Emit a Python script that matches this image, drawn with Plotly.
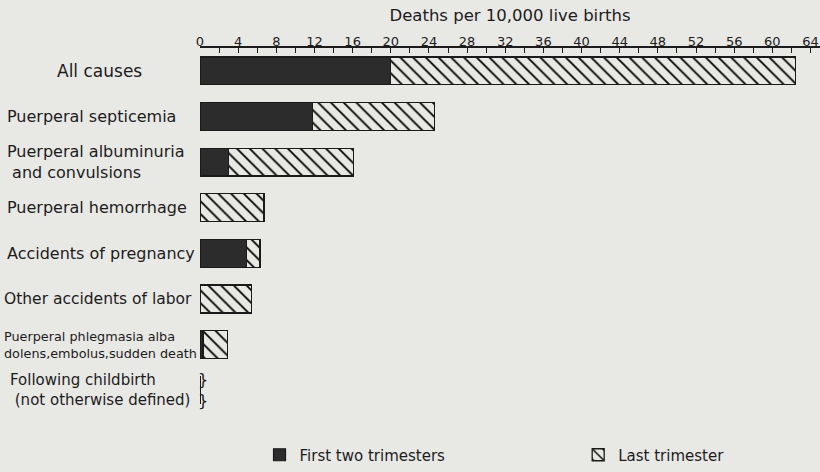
import plotly.graph_objects as go

categories = [
    "All causes",
    "Puerperal septicemia",
    "Puerperal albuminuria<br> and convulsions",
    "Puerperal hemorrhage",
    "Accidents of pregnancy",
    "Other accidents of labor",
    "Puerperal phlegmasia alba<br>dolens,embolus,sudden death",
    "Following childbirth<br> (not otherwise defined)",
]
first_two = [20.0, 11.8, 3.0, 0.0, 4.9, 0.0, 0.3, 0.0]
last_tri = [42.4, 12.8, 13.1, 6.7, 1.4, 5.4, 2.6, 0.0]
label_sizes = [17, 16, 16, 16, 16, 15.5, 12.8, 15]
label_x = [-0.234, -0.315, -0.315, -0.315, -0.315, -0.319, -0.319, -0.31]

BG = "#e8e8e5"
FONT = "DejaVu Sans"

fig = go.Figure()
fig.add_trace(go.Bar(
    y=categories, x=first_two, orientation="h", name="First two trimesters",
    marker=dict(color="#2c2c2c", line=dict(color="#1a1a1a", width=1.2)),
    width=0.61, legend="legend",
))
fig.add_trace(go.Bar(
    y=categories, x=last_tri, orientation="h", name="Last trimester",
    marker=dict(color=BG, line=dict(color="#1a1a1a", width=1.3),
                pattern=dict(shape="\\", fgcolor="#000", fgopacity=1, bgcolor=BG,
                             size=9, solidity=0.2, fillmode="overlay")),
    width=0.61, legend="legend2",
))

for cat, sz, lx in zip(categories, label_sizes, label_x):
    fig.add_annotation(x=lx, xref="paper", y=cat, yref="y", text=cat,
                       showarrow=False, xanchor="left", align="left",
                       font=dict(family=FONT, size=sz, color="#1c1c1c"))

# brace for the undefined category
fig.add_annotation(x=0.35, xref="x", y=categories[-1], yref="y", text="}<br>}",
                   showarrow=False, xanchor="center",
                   font=dict(family=FONT, size=16, color="#1c1c1c"))

legend_common = dict(orientation="h", y=-0.115, xanchor="left", yanchor="middle",
                     font=dict(family=FONT, size=15), bgcolor="rgba(0,0,0,0)")

fig.update_layout(
    width=820, height=472,
    margin=dict(l=200, r=0, t=48, b=48),
    paper_bgcolor=BG, plot_bgcolor=BG,
    barmode="stack", bargap=0.39,
    font=dict(family=FONT, color="#1c1c1c"),
    showlegend=True,
    legend=dict(x=0.096, **legend_common),
    legend2=dict(x=0.61, **legend_common),
    xaxis=dict(
        side="top", range=[0, 65], dtick=4, tick0=0,
        showgrid=False, zeroline=False,
        showline=True, linecolor="#1c1c1c", linewidth=1.5,
        ticks="inside", ticklen=5, tickcolor="#1c1c1c",
        minor=dict(dtick=2, ticks="inside", ticklen=5, tickcolor="#1c1c1c"),
        tickfont=dict(family=FONT, size=13),
        ticklabelstandoff=-5, ticklabeloverflow="allow",
        title=dict(text="Deaths per 10,000 live births", standoff=8,
                   font=dict(family=FONT, size=16.5)),
        automargin=False,
    ),
    yaxis=dict(
        autorange="reversed", showticklabels=False, showgrid=False,
        showline=False, zeroline=False, ticks="",
    ),
)

fig.write_html("out.html", config={"displayModeBar": False},
               post_script="document.body.style.margin='0px';")
